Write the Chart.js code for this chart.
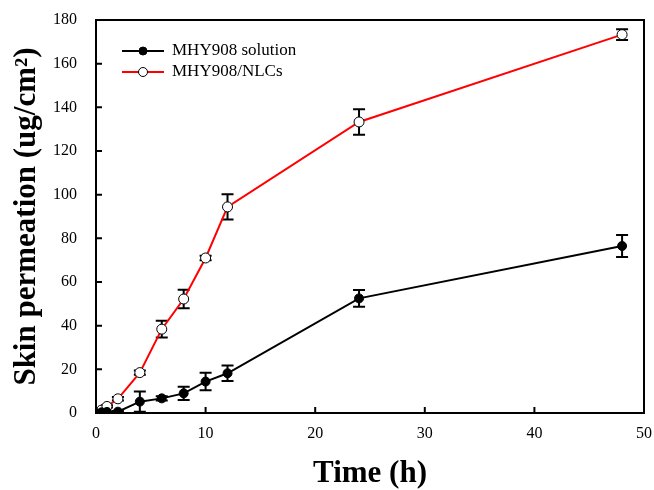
<!DOCTYPE html>
<html>
<head>
<meta charset="utf-8">
<script src="https://cdn.jsdelivr.net/npm/chart.js@4/dist/chart.umd.min.js"></script>
<style>
  html, body { margin: 0; padding: 0; background: #fff; }
  #wrap { width: 654px; height: 490px; }
</style>
</head>
<body>
<div id="wrap"><canvas id="chart"></canvas></div>
<script>
// sampling times (h)
const times = [0, 0.5, 1, 2, 4, 6, 8, 10, 12, 24, 48];

// MHY908 solution
const solutionMean = [0, 0.3, 0.5, 0.6, 5.2, 6.7, 9, 14.4, 18.2, 52.5, 76.5];
const solutionErr = [0, 0, 0, 0.3, 4.6, 1, 3, 4, 3.5, 3.8, 5];

// MHY908/NLCs
const nlcMean = [0, 1.3, 3, 6.5, 18.5, 38.4, 52.2, 71, 94.4, 133.3, 173.3];
const nlcErr = [0, 0.3, 0.5, 0.8, 1, 3.8, 4.2, 1, 5.8, 5.8, 2.5];

const xTicks = [0, 10, 20, 30, 40, 50];
const yTicks = [0, 20, 40, 60, 80, 100, 120, 140, 160, 180];

const serif = '"Liberation Serif", "Times New Roman", serif';

const toPoints = (xs, ys) => xs.map((x, i) => ({ x, y: ys[i] }));

// error bars with caps, drawn under the markers
const errorBars = {
  id: 'errorBars',
  beforeDatasetsDraw(chart) {
    const { ctx, scales: { x, y } } = chart;
    ctx.save();
    ctx.strokeStyle = '#000';
    ctx.lineWidth = 2;
    chart.data.datasets.forEach(ds => {
      ds.data.forEach((p, i) => {
        const e = ds.errors[i];
        if (!e) return;
        const px = x.getPixelForValue(p.x);
        const top = y.getPixelForValue(p.y + e);
        const bot = y.getPixelForValue(p.y - e);
        ctx.beginPath();
        ctx.moveTo(px, top); ctx.lineTo(px, bot);
        ctx.moveTo(px - 6, top); ctx.lineTo(px + 6, top);
        ctx.moveTo(px - 6, bot); ctx.lineTo(px + 6, bot);
        ctx.stroke();
      });
    });
    ctx.restore();
  }
};

// box frame and inward tick marks
const frame = {
  id: 'frame',
  afterDraw(chart) {
    const { ctx, chartArea: a, scales: { x, y } } = chart;
    ctx.save();
    ctx.strokeStyle = '#000';
    ctx.lineWidth = 2;
    ctx.strokeRect(a.left, a.top, a.right - a.left, a.bottom - a.top);
    ctx.beginPath();
    xTicks.forEach(v => {
      const px = x.getPixelForValue(v);
      ctx.moveTo(px, a.bottom); ctx.lineTo(px, a.bottom - 6);
    });
    yTicks.forEach(v => {
      const py = y.getPixelForValue(v);
      ctx.moveTo(a.left, py); ctx.lineTo(a.left + 6, py);
    });
    ctx.stroke();
    ctx.restore();
  }
};

// legend: line segment with marker, then label
const lineLegend = {
  id: 'lineLegend',
  afterDraw(chart) {
    const { ctx, chartArea: a } = chart;
    ctx.save();
    ctx.font = '17px ' + serif;
    ctx.textBaseline = 'middle';
    chart.data.datasets.forEach((ds, i) => {
      const yy = a.top + 31 + i * 21;
      const x0 = a.left + 26;
      ctx.strokeStyle = ds.borderColor;
      ctx.lineWidth = 2;
      ctx.beginPath();
      ctx.moveTo(x0, yy); ctx.lineTo(x0 + 42, yy);
      ctx.stroke();
      ctx.beginPath();
      ctx.arc(x0 + 21, yy, ds.pointRadius - 0.5, 0, Math.PI * 2);
      ctx.fillStyle = ds.pointBackgroundColor;
      ctx.fill();
      ctx.lineWidth = 1;
      ctx.strokeStyle = '#000';
      ctx.stroke();
      ctx.fillStyle = '#000';
      ctx.fillText(ds.label, x0 + 50, yy);
    });
    ctx.restore();
  }
};

new Chart(document.getElementById('chart'), {
  type: 'line',
  data: {
    datasets: [
      {
        label: 'MHY908 solution',
        data: toPoints(times, solutionMean),
        errors: solutionErr,
        borderColor: '#000',
        borderWidth: 2,
        pointRadius: 4.5,
        pointBackgroundColor: '#000',
        pointBorderColor: '#000',
        pointBorderWidth: 1
      },
      {
        label: 'MHY908/NLCs',
        data: toPoints(times, nlcMean),
        errors: nlcErr,
        borderColor: '#ff0000',
        borderWidth: 2,
        pointRadius: 5,
        pointBackgroundColor: '#fff',
        pointBorderColor: '#000',
        pointBorderWidth: 1
      }
    ]
  },
  options: {
    responsive: true,
    maintainAspectRatio: false,
    animation: false,
    layout: { padding: { top: 20, right: 10, left: 0, bottom: 0 } },
    plugins: {
      legend: { display: false },
      tooltip: { enabled: false }
    },
    scales: {
      x: {
        type: 'linear',
        min: 0,
        max: 50,
        afterBuildTicks: s => { s.ticks = xTicks.map(v => ({ value: v })); },
        afterFit: s => { s.height = 77; s.paddingLeft = 0; s.paddingRight = 0; },
        grid: { display: false, drawTicks: false },
        border: { display: false },
        ticks: { color: '#000', padding: 11, font: { family: serif, size: 16 } },
        title: {
          display: true,
          text: 'Time (h)',
          color: '#000',
          font: { family: serif, size: 31, weight: 'bold', lineHeight: 1 },
          padding: { top: 0, bottom: 1 }
        }
      },
      y: {
        min: 0,
        max: 180,
        afterBuildTicks: s => { s.ticks = yTicks.map(v => ({ value: v })); },
        afterFit: s => { s.width = 96; s.paddingTop = 0; s.paddingBottom = 0; },
        grid: { display: false, drawTicks: false },
        border: { display: false },
        ticks: { color: '#000', padding: 19, font: { family: serif, size: 16 } },
        title: {
          display: true,
          text: 'Skin permeation (ug/cm\u00B2)',
          color: '#000',
          font: { family: serif, size: 31, weight: 'bold', lineHeight: 1 },
          padding: { top: 11, bottom: 0 }
        }
      }
    }
  },
  plugins: [errorBars, frame, lineLegend]
});
</script>
</body>
</html>
